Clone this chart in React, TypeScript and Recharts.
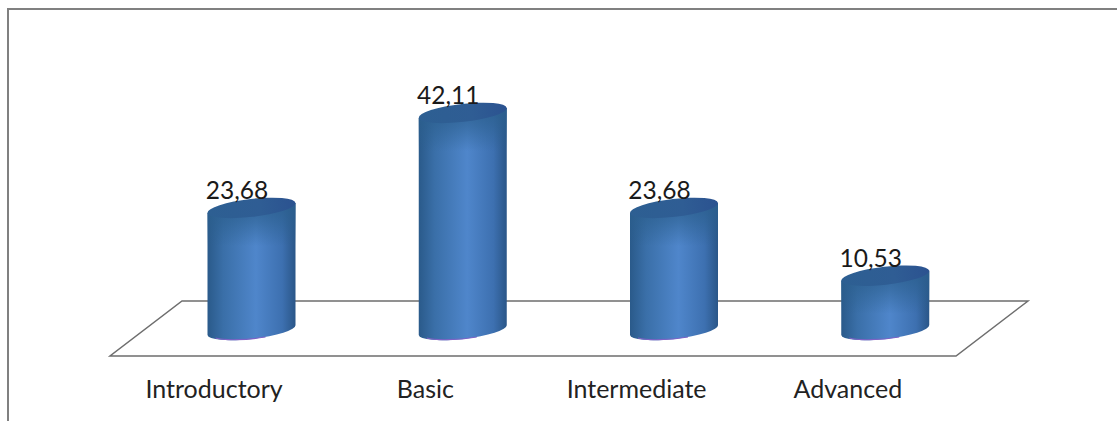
import { BarChart, Bar, XAxis, YAxis, LabelList } from 'recharts';

const levels = ['Introductory', 'Basic', 'Intermediate', 'Advanced'];
const percentages = [23.68, 42.11, 23.68, 10.53];

const chartData = levels.map((level, i) => ({ level, percent: percentages[i] }));

const FONT = 'Lato, sans-serif';
const CAP_TILT = 5;
const CAP_RY = 9;
const SHADE_DEPTH = 44;

// Cylinder with a slightly tilted elliptical cap and base
function Cylinder({ x, y, width, height }: any) {
  const rx = Math.hypot(width / 2, CAP_TILT);
  const base = y + height;
  const arc = `A${rx} ${CAP_RY} -6.5 0 0`;
  const body = `M${x} ${y + CAP_TILT} L${x} ${base + CAP_TILT} ${arc} ${x + width} ${base - CAP_TILT} L${x + width} ${y - CAP_TILT} Z`;
  const rim = `M${x + 8} ${base + CAP_TILT + 3} ${arc} ${x + width - 30} ${base + 7}`;
  return (
    <g>
      <path d={body} fill="url(#cylinderBody)" />
      <path
        d={`M${x} ${y + CAP_TILT} L${x} ${y + CAP_TILT + SHADE_DEPTH} L${x + width} ${y - CAP_TILT + SHADE_DEPTH} L${x + width} ${y - CAP_TILT} Z`}
        fill="url(#cylinderShade)"
      />
      <path d={rim} fill="none" stroke="#7d62c4" strokeWidth={1.2} />
      <ellipse
        cx={x + width / 2}
        cy={y}
        rx={rx}
        ry={CAP_RY}
        transform={`rotate(-6.5 ${x + width / 2} ${y})`}
        fill="url(#cylinderCap)"
      />
    </g>
  );
}

function ValueLabel({ x, y, value }: any) {
  return (
    <text x={x + 29.5} y={y - 9} textAnchor="middle" fontFamily={FONT} fontSize={24.5} fill="#1a1a1a">
      {String(value).replace('.', ',')}
    </text>
  );
}

function LevelTick({ x, y, payload }: any) {
  return (
    <text x={x - 37} y={y + 60} textAnchor="middle" fontFamily={FONT} fontSize={25} fill="#222">
      {payload.value}
    </text>
  );
}

export default function App() {
  return (
    <div style={{ position: 'absolute', left: 0, top: 0, width: 1117, height: 421, background: '#fff', overflow: 'hidden' }}>
      <div style={{ position: 'absolute', left: 7, top: 8, right: -4, bottom: -4, borderTop: '2px solid #808080', borderLeft: '2px solid #808080' }} />
      <BarChart
        width={1117}
        height={421}
        data={chartData}
        margin={{ top: 98, right: 126.5, bottom: 31, left: 145.5 }}
        style={{ position: 'absolute', left: 0, top: 0 }}
      >
        <defs>
          <linearGradient id="cylinderBody" x1="0" x2="1" y1="0" y2="0">
            <stop offset="0" stopColor="#2a5a8a" />
            <stop offset="0.18" stopColor="#3a6fa8" />
            <stop offset="0.55" stopColor="#4f86cb" />
            <stop offset="0.85" stopColor="#3d70b0" />
            <stop offset="1" stopColor="#2a5688" />
          </linearGradient>
          <linearGradient id="cylinderShade" x1="0" x2="0" y1="0" y2="1">
            <stop offset="0" stopColor="#2b5f8e" stopOpacity={0.9} />
            <stop offset="0.35" stopColor="#2b5f8e" stopOpacity={0.55} />
            <stop offset="0.8" stopColor="#2b5f8e" stopOpacity={0} />
          </linearGradient>
          <linearGradient id="cylinderCap" x1="0" x2="1" y1="0" y2="0">
            <stop offset="0" stopColor="#2d5f92" />
            <stop offset="0.6" stopColor="#2f5d94" />
            <stop offset="1" stopColor="#2b5290" />
          </linearGradient>
        </defs>
        <polygon points="110,356 956,356 1028,301 182,301" fill="none" stroke="#6e6e6e" strokeWidth={1.5} />
        <XAxis dataKey="level" height={60} axisLine={false} tickLine={false} interval={0} tick={<LevelTick />} />
        <YAxis hide domain={[0, 45]} />
        <Bar dataKey="percent" barSize={88} shape={<Cylinder />} isAnimationActive={false}>
          <LabelList dataKey="percent" content={<ValueLabel />} />
        </Bar>
      </BarChart>
    </div>
  );
}
